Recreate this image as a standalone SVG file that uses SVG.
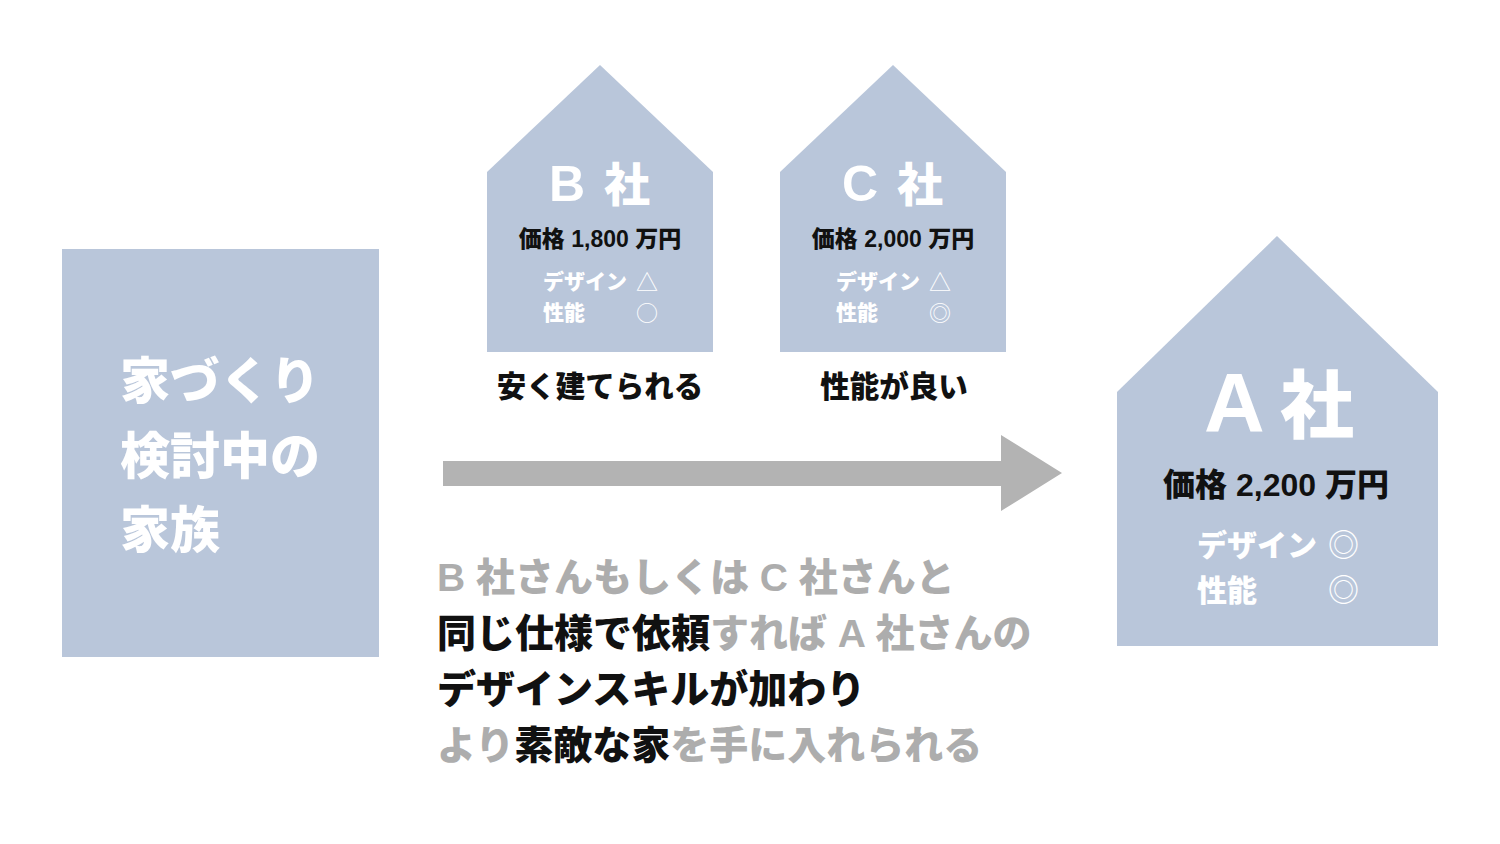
<svg xmlns="http://www.w3.org/2000/svg" width="1500" height="844" viewBox="0 0 1500 844">
<style>
text{font-family:"Liberation Sans","Noto Sans CJK JP",sans-serif;font-weight:900}
.sym{font-family:"Noto Sans CJK JP",sans-serif;font-weight:400}
.shape{fill:#b9c6da}
.w{fill:#ffffff}
.k{fill:#111111}
.g{fill:#adadad}
</style>
<rect width="1500" height="844" fill="#ffffff"/>
<g id="family">
<rect class="shape" x="62" y="249" width="317" height="408"/>
<text class="w" font-size="50" x="120" y="399">家づくり</text>
<text class="w" font-size="50" x="120" y="474">検討中の</text>
<text class="w" font-size="50" x="120" y="548">家族</text>
</g>
<g id="companyB">
<polygon class="shape" points="487,172 600,65 713,172 713,352 487,352"/>
<text class="w" y="201"><tspan font-size="50" x="549">B</tspan><tspan font-size="46" x="604">社</tspan></text>
<text class="k" font-size="23" x="600" y="247" text-anchor="middle">価格 1,800 万円</text>
<text class="w" font-size="21" x="543" y="289">デザイン</text>
<text class="w sym" font-size="22" x="636" y="290">△</text>
<text class="w" font-size="21" x="543" y="320">性能</text>
<text class="w sym" font-size="22" x="636" y="321">○</text>
<text class="k" font-size="29.5" x="600" y="397" text-anchor="middle">安く建てられる</text>
</g>
<g id="companyC">
<polygon class="shape" points="780,172 893,65 1006,172 1006,352 780,352"/>
<text class="w" y="201"><tspan font-size="50" x="842">C</tspan><tspan font-size="46" x="897">社</tspan></text>
<text class="k" font-size="23" x="893" y="247" text-anchor="middle">価格 2,000 万円</text>
<text class="w" font-size="21" x="836" y="289">デザイン</text>
<text class="w sym" font-size="22" x="929" y="290">△</text>
<text class="w" font-size="21" x="836" y="320">性能</text>
<text class="w sym" font-size="22" x="929" y="321">◎</text>
<text class="k" font-size="29.5" x="894" y="397" text-anchor="middle">性能が良い</text>
</g>
<g id="companyA">
<polygon class="shape" points="1117,392 1277,236 1438,392 1438,646 1117,646"/>
<text class="w" y="432"><tspan font-size="84" x="1204">A</tspan><tspan font-size="74" x="1280">社</tspan></text>
<text class="k" font-size="32" x="1276" y="496" text-anchor="middle">価格 2,200 万円</text>
<text class="w" font-size="30" x="1197" y="556">デザイン</text>
<text class="w sym" font-size="31" x="1328" y="556">◎</text>
<text class="w" font-size="30" x="1197" y="601">性能</text>
<text class="w sym" font-size="31" x="1328" y="601">◎</text>
</g>
<g id="connectors">
<polygon fill="#b3b3b3" points="443,461 1001,461 1001,435 1062,473 1001,511 1001,486 443,486"/>
</g>
<g id="message">
<text font-size="39" x="437" y="591"><tspan class="g">B 社さんもしくは C 社さんと</tspan></text>
<text font-size="39" x="437" y="647"><tspan class="k">同じ仕様で依頼</tspan><tspan class="g">すれば A 社さんの</tspan></text>
<text font-size="39" x="437" y="703"><tspan class="k">デザインスキルが加わり</tspan></text>
<text font-size="39" x="437" y="759"><tspan class="g">より</tspan><tspan class="k">素敵な家</tspan><tspan class="g">を手に入れられる</tspan></text>
</g>
</svg>
